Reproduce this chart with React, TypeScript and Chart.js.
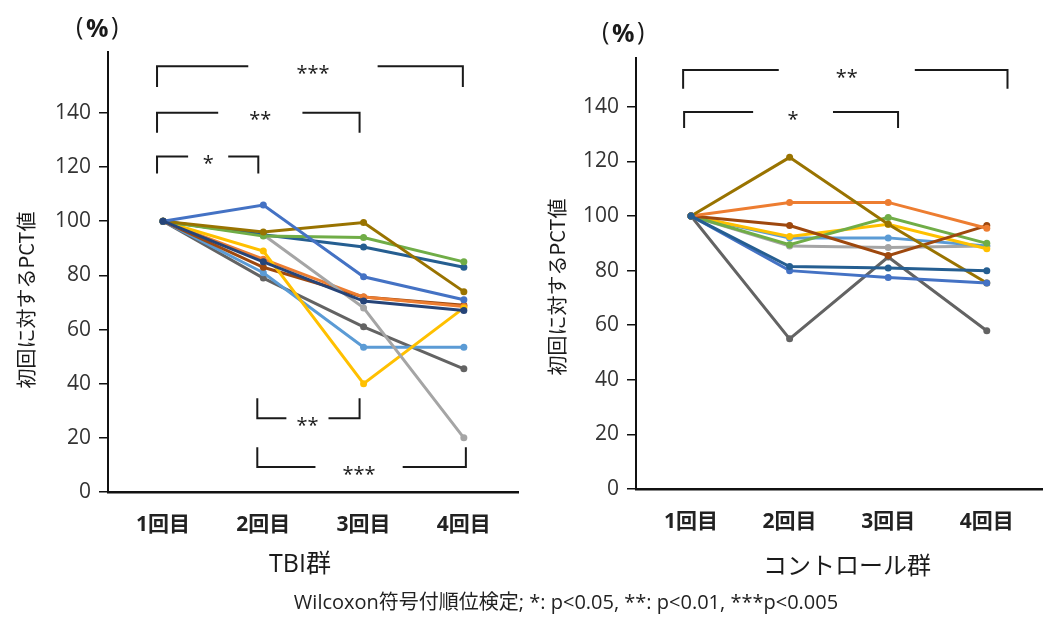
import React, { useEffect, useRef } from "react";
import { Chart, registerables } from "chart.js";

Chart.register(...registerables);

// ---------- data ----------
const visitNums = [1, 2, 3, 4];
const visitLabels = ["1回目", "2回目", "3回目", "4回目"];
const yTicks = [0, 20, 40, 60, 80, 100, 120, 140];

// TBI群 (each array: 1回目..4回目, % of first value)
const tbiBlue = [100, 106, 79.5, 71];
const tbiOlive = [100, 96, 99.5, 74];
const tbiGreen = [100, 94.5, 94, 85];
const tbiSteel = [100, 95, 90.5, 83];
const tbiGray = [100, 95, 68, 20];
const tbiGold = [100, 89, 40, 68];
const tbiOrange = [100, 86, 72, 68.5];
const tbiBrown = [100, 83, 72, 69];
const tbiNavy = [100, 85, 70.5, 67];
const tbiSky = [100, 81, 53.5, 53.5];
const tbiDark = [100, 79, 61, 45.5];

// コントロール群
const ctlOlive = [100, 121.5, 97, 75.5];
const ctlOrange = [100, 105, 105, 95.5];
const ctlBrown = [100, 96.5, 85.5, 96.5];
const ctlGreen = [100, 89.5, 99.5, 90];
const ctlGold = [100, 92.5, 97, 88];
const ctlSky = [100, 92, 92, 89];
const ctlGray = [100, 89, 88.5, 89];
const ctlSteel = [100, 81.5, 81, 80];
const ctlBlue = [100, 80, 77.5, 75.5];
const ctlDark = [100, 55, 85, 58];

// significance brackets: x from/to (visit), gap from/to (visit), y line / y end (%)
const tbiBrackets = [
  { x1: 0.94, x2: 3.99, g1: 1.85, g2: 3.14, y: 157.2, yEnd: 149.6, label: "***" },
  { x1: 0.94, x2: 2.96, g1: 1.55, g2: 2.39, y: 140.1, yEnd: 132.7, label: "**" },
  { x1: 0.94, x2: 1.95, g1: 1.25, g2: 1.65, y: 123.9, yEnd: 117.6, label: "*" },
  { x1: 1.94, x2: 2.96, g1: 2.23, g2: 2.65, y: 27.2, yEnd: 34.6, label: "**" },
  { x1: 1.94, x2: 4.02, g1: 2.52, g2: 3.39, y: 9.2, yEnd: 16.5, label: "***" },
];
const ctlBrackets = [
  { x1: 0.92, x2: 4.21, g1: 1.89, g2: 3.27, y: 153.5, yEnd: 146.6, label: "**" },
  { x1: 0.93, x2: 3.1, g1: 1.63, g2: 2.44, y: 138.1, yEnd: 132.3, label: "*" },
];

const footerText = "Wilcoxon符号付順位検定; *: p<0.05, **: p<0.01, ***p<0.005";

// ---------- styling ----------
const FONT = '"Open Sans", "Noto Sans CJK JP", sans-serif';
const CJK = '"Noto Sans CJK JP", "Open Sans", sans-serif';

const C = {
  blue: "#4472C4",
  orange: "#ED7D31",
  gray: "#A5A5A5",
  gold: "#FFC000",
  sky: "#5B9BD5",
  green: "#70AD47",
  navy: "#264478",
  brown: "#9E480E",
  dark: "#636363",
  olive: "#997300",
  steel: "#255E91",
};

type Panel = {
  series: number[][];
  colors: string[];
  brackets: typeof tbiBrackets;
  xMin: number;
  xMax: number;
  yMax: number;
  padTop: number;
  padRight: number;
  yAxisW: number;
  xAxisH: number;
  width: number;
  left: number;
  pct: { x: number; y: number };
  texts: { text: string; x: number; y: number; size: number; rot?: boolean; family: string }[];
};

const panels: Panel[] = [
  {
    series: [tbiNavy, tbiBlue, tbiOlive, tbiGreen, tbiSteel, tbiGray, tbiGold, tbiOrange, tbiBrown, tbiSky, tbiDark],
    colors: [C.navy, C.blue, C.olive, C.green, C.steel, C.gray, C.gold, C.orange, C.brown, C.sky, C.dark],
    brackets: tbiBrackets,
    xMin: 0.451,
    xMax: 4.54,
    yMax: 162.5,
    padTop: 52,
    padRight: 12,
    yAxisW: 108,
    xAxisH: 125,
    width: 530,
    left: 0,
    pct: { x: 97, y: 28 },
    texts: [
      { text: "TBI群", x: 300, y: 565, size: 25, family: FONT },
      { text: "初回に対するPCT値", x: 26, y: 300, size: 20, rot: true, family: CJK },
    ],
  },
  {
    series: [ctlSteel, ctlBlue, ctlOlive, ctlOrange, ctlBrown, ctlGreen, ctlGold, ctlSky, ctlGray, ctlDark],
    colors: [C.steel, C.blue, C.olive, C.orange, C.brown, C.green, C.gold, C.sky, C.gray, C.dark],
    brackets: ctlBrackets,
    xMin: 0.442,
    xMax: 4.56,
    yMax: 157.9,
    padTop: 58,
    padRight: 4,
    yAxisW: 106,
    xAxisH: 128,
    width: 516,
    left: 530,
    pct: { x: 93, y: 33 },
    texts: [
      { text: "コントロール群", x: 317, y: 565, size: 24, family: CJK },
      { text: "初回に対するPCT値", x: 27, y: 287, size: 20, rot: true, family: CJK },
    ],
  },
];

function overlay(p: Panel) {
  return {
    id: "overlay",
    afterDraw(chart: any) {
      const { ctx } = chart;
      const xs = chart.scales.x;
      const ys = chart.scales.y;
      ctx.save();
      ctx.strokeStyle = "#1a1a1a";
      ctx.fillStyle = "#1a1a1a";
      ctx.lineWidth = 2;
      p.brackets.forEach((b) => {
        const x1 = xs.getPixelForValue(b.x1);
        const x2 = xs.getPixelForValue(b.x2);
        const g1 = xs.getPixelForValue(b.g1);
        const g2 = xs.getPixelForValue(b.g2);
        const yl = ys.getPixelForValue(b.y);
        const ye = ys.getPixelForValue(b.yEnd);
        ctx.beginPath();
        ctx.moveTo(x1, ye);
        ctx.lineTo(x1, yl);
        ctx.lineTo(g1, yl);
        ctx.moveTo(g2, yl);
        ctx.lineTo(x2, yl);
        ctx.lineTo(x2, ye);
        ctx.stroke();
        ctx.font = `20px ${FONT}`;
        ctx.textAlign = "center";
        ctx.textBaseline = "alphabetic";
        const m = ctx.measureText(b.label);
        const cy = yl + 3;
        ctx.fillText(b.label, (g1 + g2) / 2, cy + (m.actualBoundingBoxAscent - m.actualBoundingBoxDescent) / 2);
      });
      p.texts.forEach((t) => {
        ctx.save();
        ctx.fillStyle = "#1a1a1a";
        ctx.font = `${t.size}px ${t.family}`;
        ctx.textAlign = "center";
        ctx.textBaseline = "middle";
        ctx.translate(t.x, t.y);
        if (t.rot) ctx.rotate(-Math.PI / 2);
        ctx.fillText(t.text, 0, 0);
        ctx.restore();
      });
      // "（%）" unit label: tall thin parentheses, bold percent sign (placed by ink bounds)
      ctx.save();
      ctx.textBaseline = "alphabetic";
      ctx.textAlign = "left";
      ctx.fillStyle = "#1a1a1a";
      const parenFont = `25px ${FONT}`;
      const pctFont = `bold 25px ${FONT}`;
      const ink = (s: string, f: string) => {
        ctx.font = f;
        const m = ctx.measureText(s);
        return { l: m.actualBoundingBoxLeft, r: m.actualBoundingBoxRight, a: m.actualBoundingBoxAscent, d: m.actualBoundingBoxDescent };
      };
      const mp = ink("%", pctFont);
      const ml = ink("(", parenFont);
      const mr = ink(")", parenFont);
      const base = p.pct.y + (mp.a - mp.d) / 2;
      const pctInkW = mp.l + mp.r;
      const pctX = p.pct.x - pctInkW / 2 + mp.l;
      const gap = 3;
      ctx.font = pctFont;
      ctx.fillText("%", pctX, base);
      const parenBase = p.pct.y + (ml.a - ml.d) / 2;
      ctx.font = parenFont;
      const lInkRight = pctX - mp.l - gap;
      ctx.fillText("(", lInkRight - ml.r, parenBase);
      const rInkLeft = pctX + mp.r + gap;
      ctx.fillText(")", rInkLeft + mr.l, parenBase);
      ctx.restore();
      ctx.restore();
    },
  };
}

function buildConfig(p: Panel): any {
  return {
    type: "line",
    data: {
      datasets: p.series.map((vals, i) => ({
        data: vals.map((v, j) => ({ x: visitNums[j], y: v })),
        borderColor: p.colors[i],
        backgroundColor: p.colors[i],
        pointBackgroundColor: p.colors[i],
        pointBorderColor: p.colors[i],
        borderWidth: 3,
        pointRadius: 3.5,
        pointBorderWidth: 0,
        tension: 0,
        fill: false,
      })),
    },
    options: {
      responsive: false,
      animation: false,
      events: [],
      layout: { padding: { left: 0, right: p.padRight, top: p.padTop, bottom: 0 } },
      plugins: { legend: { display: false }, tooltip: { enabled: false }, title: { display: false } },
      scales: {
        x: {
          type: "linear",
          min: p.xMin,
          max: p.xMax,
          afterBuildTicks: (s: any) => {
            s.ticks = visitNums.map((v) => ({ value: v }));
          },
          afterFit: (s: any) => {
            s.height = p.xAxisH;
          },
          grid: { display: false, drawTicks: false },
          border: { display: true, color: "#111", width: 2.5 },
          ticks: {
            padding: 20,
            autoSkip: false,
            maxRotation: 0,
            color: "#222",
            font: { family: FONT, size: 21, weight: "bold" },
            callback: (v: any) => visitLabels[Number(v) - 1] ?? "",
          },
        },
        y: {
          min: 0,
          max: p.yMax,
          afterBuildTicks: (s: any) => {
            s.ticks = yTicks.map((v) => ({ value: v }));
          },
          afterFit: (s: any) => {
            s.width = p.yAxisW;
          },
          grid: { display: true, drawOnChartArea: false, drawTicks: true, tickLength: 9, color: "#111", lineWidth: 1.5 },
          border: { display: true, color: "#111", width: 2 },
          ticks: { padding: 8, color: "#333", font: { family: FONT, size: 21 } },
        },
      },
    },
    plugins: [overlay(p)],
  };
}

function PanelChart({ p }: { p: Panel }) {
  const ref = useRef<HTMLCanvasElement | null>(null);
  useEffect(() => {
    if (!ref.current) return;
    const chart = new Chart(ref.current, buildConfig(p));
    return () => chart.destroy();
  }, [p]);
  return (
    <canvas
      ref={ref}
      width={p.width}
      height={617}
      style={{ position: "absolute", left: p.left, top: 0, width: p.width, height: 617 }}
    />
  );
}

export default function App() {
  return (
    <div style={{ position: "absolute", left: 0, top: 0, width: 1046, height: 617, background: "#fff", overflow: "hidden" }}>
      {panels.map((p, i) => (
        <PanelChart key={i} p={p} />
      ))}
      <div
        style={{
          position: "absolute",
          left: 566,
          top: 602,
          transform: "translate(-50%, -50%)",
          whiteSpace: "nowrap",
          fontFamily: FONT,
          fontSize: 20,
          lineHeight: "22px",
          color: "#222",
        }}
      >
        {footerText}
      </div>
    </div>
  );
}
